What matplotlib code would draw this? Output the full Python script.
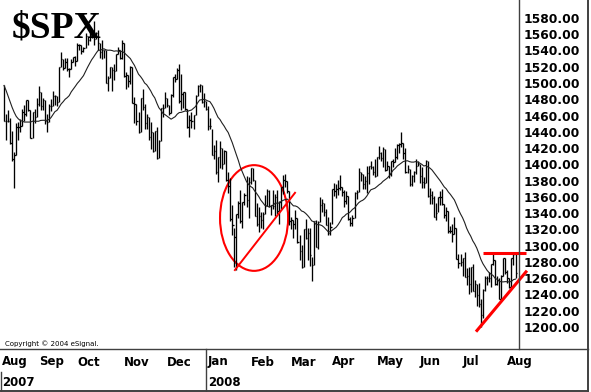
import numpy as np
import pandas as pd
import matplotlib
matplotlib.use("Agg")
import matplotlib.pyplot as plt
import matplotlib.transforms as mtransforms
from matplotlib.collections import LineCollection
from matplotlib.lines import Line2D
from matplotlib.patches import Ellipse

# daily bars, Aug 9 2007 .. Aug 7 2008 (one row per month in each list)
highs = [
    1497.3, 1462.0, 1466.3, 1456.7, 1440.8, 1415.0, 1450.3, 1451.8, 1455.3, 1468.0, 1472.4, 1479.4, 1479.4, 1466.8, 1463.8, 1468.4, 1481.5,
    1496.4, 1489.4, 1481.5, 1478.6, 1462.0, 1474.8, 1479.8, 1489.6, 1485.0, 1484.3, 1520.0, 1538.7, 1529.1, 1530.9, 1530.2, 1518.4, 1529.4, 1532.4, 1533.7,
    1549.0, 1548.1, 1546.6, 1544.8, 1561.9, 1557.6, 1565.3, 1565.4, 1576.1, 1563.0, 1564.7, 1548.7, 1552.8, 1541.2, 1540.1, 1508.1, 1520.0, 1519.6, 1524.0, 1535.3, 1544.7, 1541.0, 1552.8,
    1549.4, 1513.0, 1509.7, 1520.7, 1520.3, 1482.5, 1474.8, 1464.9, 1481.4, 1492.8, 1473.9, 1462.2, 1458.6, 1452.6, 1439.7, 1440.9, 1446.1, 1429.5, 1469.4, 1473.8, 1488.9,
    1481.2, 1472.4, 1486.1, 1508.0, 1510.6, 1518.6, 1523.6, 1511.4, 1489.4, 1488.4, 1468.0, 1461.0, 1464.4, 1461.2, 1485.4, 1497.0, 1498.9, 1497.7, 1488.1, 1478.5,
    1471.8, 1456.8, 1444.0, 1423.9, 1430.3, 1409.2, 1429.1, 1419.9, 1417.9, 1416.3, 1391.0, 1383.7, 1350.3, 1322.1, 1339.1, 1355.2, 1368.6, 1354.0, 1364.8, 1385.6, 1385.0,
    1396.0, 1395.4, 1380.8, 1351.9, 1347.3, 1341.2, 1341.2, 1362.9, 1369.8, 1368.2, 1350.0, 1367.9, 1363.7, 1367.9, 1354.8, 1372.7, 1387.3, 1388.3, 1380.0, 1367.7,
    1335.1, 1331.3, 1344.2, 1333.7, 1313.2, 1300.8, 1320.7, 1333.3, 1321.7, 1321.5, 1285.9, 1330.7, 1331.1, 1330.0, 1359.7, 1357.5, 1353.0, 1345.6, 1334.9, 1328.5,
    1370.2, 1377.4, 1375.7, 1380.9, 1386.7, 1372.5, 1368.2, 1367.8, 1361.0, 1335.6, 1337.4, 1365.5, 1368.4, 1395.9, 1390.3, 1388.2, 1386.2, 1397.7, 1398.0, 1404.6, 1397.4, 1406.4,
    1409.3, 1422.7, 1415.3, 1421.6, 1419.0, 1404.1, 1397.7, 1404.1, 1406.3, 1420.2, 1424.4, 1425.8, 1440.2, 1426.6, 1419.7, 1399.1, 1394.4, 1387.4, 1391.3, 1406.3, 1404.5,
    1400.4, 1396.7, 1384.7, 1405.0, 1404.1, 1370.6, 1366.8, 1360.6, 1353.0, 1360.0, 1366.6, 1370.0, 1350.9, 1347.2, 1342.8, 1323.9, 1326.7, 1335.6, 1322.0, 1289.4, 1290.3,
    1285.0, 1292.2, 1272.0, 1273.9, 1274.0, 1277.4, 1257.7, 1253.4, 1254.0, 1234.4, 1246.8, 1262.3, 1262.2, 1267.7, 1277.8, 1291.2, 1282.2, 1263.2, 1260.1, 1264.2, 1284.7, 1284.3,
    1270.5, 1260.3, 1284.9, 1291.7, 1289.2,
]
lows = [
    1453.2, 1429.7, 1451.5, 1424.4, 1404.4, 1370.6, 1411.3, 1430.5, 1439.8, 1447.1, 1453.3, 1460.0, 1465.9, 1432.0, 1432.4, 1451.3, 1457.6,
    1472.2, 1466.4, 1467.4, 1449.1, 1439.3, 1451.7, 1465.0, 1471.6, 1473.2, 1471.8, 1476.7, 1519.8, 1516.1, 1518.8, 1514.2, 1507.1, 1517.2, 1525.4, 1521.0,
    1526.8, 1540.6, 1536.0, 1537.6, 1542.8, 1547.2, 1551.8, 1555.5, 1546.7, 1554.4, 1540.8, 1531.3, 1529.4, 1531.0, 1500.3, 1490.4, 1506.3, 1489.6, 1503.3, 1514.4, 1535.3, 1530.0, 1529.4,
    1507.6, 1492.5, 1494.8, 1499.1, 1475.5, 1450.3, 1448.5, 1439.1, 1439.2, 1466.5, 1444.0, 1443.0, 1430.5, 1419.3, 1415.6, 1417.0, 1406.1, 1407.2, 1428.2, 1458.4, 1469.7,
    1470.1, 1460.3, 1462.8, 1483.2, 1500.7, 1504.7, 1475.0, 1467.2, 1469.2, 1466.5, 1445.2, 1433.4, 1445.3, 1443.4, 1460.1, 1484.5, 1488.6, 1475.7, 1470.2, 1467.0,
    1442.1, 1443.7, 1411.2, 1406.0, 1388.3, 1378.7, 1395.3, 1394.8, 1401.0, 1380.0, 1364.3, 1330.7, 1312.5, 1274.3, 1270.1, 1334.3, 1327.5, 1322.3, 1350.3, 1348.1, 1334.1,
    1375.9, 1379.7, 1336.6, 1324.3, 1316.8, 1321.1, 1320.3, 1339.1, 1348.9, 1347.3, 1338.1, 1345.1, 1336.8, 1339.3, 1326.4, 1345.1, 1363.3, 1372.0, 1364.3, 1325.4,
    1320.0, 1309.0, 1320.7, 1303.7, 1282.4, 1272.7, 1273.4, 1307.9, 1282.1, 1274.9, 1257.0, 1276.6, 1298.4, 1295.3, 1329.5, 1341.2, 1336.4, 1325.7, 1312.9, 1312.8,
    1326.4, 1361.1, 1358.7, 1362.8, 1369.0, 1360.7, 1348.0, 1350.7, 1331.5, 1324.4, 1324.4, 1334.4, 1357.3, 1365.6, 1379.2, 1370.2, 1369.8, 1365.1, 1375.3, 1394.7, 1386.7, 1384.4,
    1385.6, 1406.3, 1404.4, 1397.1, 1391.2, 1392.6, 1383.1, 1386.2, 1396.3, 1403.0, 1406.9, 1414.5, 1421.6, 1406.3, 1388.8, 1389.8, 1373.4, 1373.1, 1378.2, 1388.6, 1398.1,
    1377.1, 1370.7, 1370.7, 1377.2, 1359.9, 1350.7, 1351.5, 1335.2, 1331.3, 1341.2, 1350.5, 1350.5, 1333.4, 1330.2, 1315.8, 1315.3, 1304.7, 1314.3, 1283.1, 1272.0, 1274.9,
    1262.2, 1261.5, 1252.0, 1240.7, 1242.8, 1244.4, 1236.8, 1225.4, 1225.0, 1200.4, 1211.4, 1244.5, 1251.8, 1255.7, 1248.8, 1276.1, 1251.5, 1251.8, 1234.4, 1233.3, 1262.7, 1265.1,
    1254.5, 1247.5, 1249.0, 1276.0, 1260.7,
]
closes = [
    1453.1, 1453.6, 1452.9, 1426.5, 1406.7, 1411.3, 1445.9, 1445.6, 1447.1, 1464.1, 1462.5, 1479.4, 1466.8, 1432.4, 1463.8, 1457.6, 1474.0,
    1489.4, 1472.3, 1478.6, 1453.6, 1451.7, 1471.5, 1471.6, 1483.9, 1484.3, 1476.7, 1519.8, 1529.0, 1518.8, 1525.8, 1517.7, 1517.2, 1525.4, 1531.4, 1526.8,
    1547.0, 1546.6, 1539.6, 1542.8, 1557.6, 1552.6, 1565.2, 1562.5, 1554.4, 1561.8, 1548.7, 1538.5, 1541.2, 1540.1, 1500.6, 1506.3, 1519.6, 1515.9, 1514.4, 1535.3, 1541.0, 1531.0, 1549.4,
    1508.4, 1509.7, 1502.2, 1520.3, 1475.6, 1474.8, 1453.7, 1439.2, 1481.1, 1470.6, 1451.2, 1458.7, 1433.3, 1439.7, 1416.8, 1440.7, 1407.2, 1428.2, 1469.0, 1469.7, 1481.1,
    1472.4, 1462.8, 1485.0, 1507.3, 1504.7, 1516.0, 1477.7, 1486.6, 1488.4, 1468.0, 1445.9, 1455.0, 1453.0, 1460.1, 1484.5, 1496.5, 1497.7, 1476.3, 1478.5, 1468.4,
    1447.2, 1447.2, 1411.6, 1416.2, 1390.2, 1409.1, 1420.3, 1401.0, 1416.3, 1381.0, 1373.2, 1333.3, 1325.2, 1310.5, 1338.6, 1352.1, 1330.6, 1354.0, 1362.3, 1355.8, 1378.6,
    1395.4, 1380.8, 1336.6, 1326.5, 1336.9, 1331.3, 1339.1, 1348.9, 1367.2, 1348.9, 1350.0, 1348.8, 1360.0, 1342.5, 1353.1, 1371.8, 1381.3, 1380.0, 1367.7, 1330.6,
    1331.3, 1326.8, 1333.7, 1304.3, 1293.4, 1273.4, 1320.7, 1308.8, 1315.5, 1288.1, 1276.6, 1330.7, 1298.4, 1329.5, 1349.9, 1353.0, 1341.1, 1325.8, 1315.2, 1322.7,
    1370.2, 1367.5, 1369.3, 1370.4, 1372.5, 1365.5, 1354.5, 1360.6, 1332.8, 1328.3, 1334.4, 1364.7, 1365.6, 1390.3, 1388.2, 1375.9, 1379.9, 1388.8, 1397.8, 1396.4, 1390.9, 1385.6,
    1409.3, 1413.9, 1407.5, 1418.3, 1392.6, 1397.7, 1388.3, 1403.6, 1403.0, 1408.7, 1423.6, 1425.4, 1426.6, 1413.4, 1390.7, 1394.4, 1375.9, 1385.4, 1390.8, 1398.3, 1400.4,
    1385.7, 1377.7, 1377.2, 1404.1, 1360.7, 1361.8, 1358.4, 1335.5, 1339.9, 1360.0, 1360.1, 1350.9, 1337.8, 1342.8, 1317.9, 1318.0, 1314.3, 1322.0, 1283.2, 1278.4, 1280.0,
    1284.9, 1261.5, 1262.9, 1252.3, 1273.7, 1244.7, 1253.4, 1239.5, 1228.3, 1214.9, 1245.4, 1260.3, 1260.7, 1260.0, 1277.0, 1282.2, 1252.5, 1257.8, 1234.4, 1263.2, 1284.3, 1267.4,
    1260.3, 1249.0, 1284.9, 1289.2, 1266.1,
]
# 20 day average for the first bars (no history before them)
ma_first = [1497, 1491, 1484, 1477, 1470, 1464, 1459, 1456, 1454, 1453,
            1452, 1452, 1452, 1452, 1453, 1453, 1453, 1453, 1454]

month_names = ["Aug", "Sep", "Oct", "Nov", "Dec", "Jan", "Feb", "Mar", "Apr", "May", "Jun", "Jul", "Aug"]
month_bars = [17, 19, 23, 21, 20, 21, 20, 20, 22, 21, 21, 22, 5]
year_names = ["2007", "2008"]
year_first_month = [0, 5]
price_ticks = np.arange(1200, 1581, 20)

n = len(closes)
idx = np.arange(n)
ma = pd.Series(closes).rolling(20).mean().to_numpy()
ma[:len(ma_first)] = ma_first
month_start = np.concatenate([[0], np.cumsum(month_bars)[:-1]])

W, H = 591, 392
fig = plt.figure(figsize=(W / 100, H / 100), dpi=100)
ax = fig.add_axes([0, 43 / H, 519 / W, 349 / H])
ax.set_xlim(-1.96, 252.7)
ax.set_ylim(1172.9, 1602.1)

segs = []
for i in idx:
    segs.append([(i, lows[i]), (i, highs[i])])
    segs.append([(i, closes[i]), (i + 0.7, closes[i])])
ax.add_collection(LineCollection(segs, colors="black", linewidths=0.95))
ax.plot(idx, ma, color="#202020", lw=0.8)

# red markup
red = "#ff0000"
ax.add_patch(Ellipse((122.7, 1334), 33.4, 130, fill=False, ec=red, lw=1.5))
ax.plot([113.3, 142.8], [1270, 1365], color=red, lw=1.4)
ax.plot([235, 256.1], [1291.4, 1291.4], color=red, lw=2.2, clip_on=False, solid_capstyle="butt")
ax.plot([231.6, 256.6], [1194.2, 1269.2], color=red, lw=2.2, clip_on=False, solid_capstyle="butt")

for s in ax.spines.values():
    s.set_visible(False)
ax.set_xticks([])
ax.yaxis.tick_right()
ax.set_yticks(price_ticks)
ax.set_yticklabels([f"{v:.2f}" for v in price_ticks])
ax.tick_params(axis="y", length=0, pad=3, labelsize=8.8)
for lbl in ax.get_yticklabels():
    lbl.set_fontweight("bold")

trans = mtransforms.blended_transform_factory(ax.transData, fig.transFigure)
for name, start in zip(month_names, month_start):
    x = start if start > 0 else -1
    ax.text(x, 1 - 362 / H, name, transform=trans, ha="left", va="center",
            fontsize=8.5, fontweight="bold", clip_on=False)
for name, m in zip(year_names, year_first_month):
    x = month_start[m] if month_start[m] > 0 else -1
    ax.text(x, 1 - 382 / H, name, transform=trans, ha="left", va="center",
            fontsize=8.5, fontweight="bold", clip_on=False)

# frame lines of the chart window
def fline(xs, ys, lw=1.0, color="#404040"):
    fig.add_artist(Line2D([x / W for x in xs], [1 - y / H for y in ys],
                          transform=fig.transFigure, color=color, lw=lw))

fline([0, 588], [349, 349])
fline([519, 519], [0, 349])
fline([588, 588], [0, 392], lw=1.4)
fline([0, 588], [390.5, 390.5], lw=1.4)
sep_x = 4 + (month_start[year_first_month[1]] - 1) * 2.038
fline([sep_x, sep_x], [349, 392])
fline([1, 1], [372, 392])

fig.text(5 / W, 1 - 344 / H, "Copyright © 2004 eSignal.", fontsize=5, va="center")
fig.text(12 / W, 1 - 37 / H, "$SPX", family="Liberation Serif", fontweight="bold",
         fontsize=27, va="baseline", zorder=5)

fig.savefig("out.png", dpi=100)
